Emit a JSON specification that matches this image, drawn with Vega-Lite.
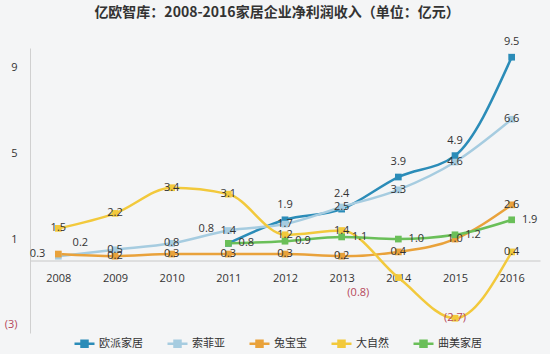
{
  "$schema": "https://vega.github.io/schema/vega-lite/v6.json",
  "autosize": {"type": "none"},
  "padding": {"left": 30, "top": 48, "right": 10, "bottom": 21},
  "width": 510,
  "height": 285,
  "background": "#f4f5f6",
  "title": {"text": "亿欧智库：2008-2016家居企业净利润收入（单位：亿元）", "fontSize": 14, "fontWeight": "bold", "color": "#333333", "anchor": "middle", "offset": 16, "dx": -8, "font": "Noto Sans CJK SC"},
  "config": {"font": "Noto Sans CJK SC", "view": {"stroke": null}},
  "data": {"values": [
    {"year": "2011", "company": "欧派家居", "value": 0.8},
    {"year": "2012", "company": "欧派家居", "value": 1.9},
    {"year": "2013", "company": "欧派家居", "value": 2.4},
    {"year": "2014", "company": "欧派家居", "value": 3.9},
    {"year": "2015", "company": "欧派家居", "value": 4.9},
    {"year": "2016", "company": "欧派家居", "value": 9.5},
    {"year": "2008", "company": "索菲亚", "value": 0.2},
    {"year": "2009", "company": "索菲亚", "value": 0.5},
    {"year": "2010", "company": "索菲亚", "value": 0.8},
    {"year": "2011", "company": "索菲亚", "value": 1.4},
    {"year": "2012", "company": "索菲亚", "value": 1.7},
    {"year": "2013", "company": "索菲亚", "value": 2.5},
    {"year": "2014", "company": "索菲亚", "value": 3.3},
    {"year": "2015", "company": "索菲亚", "value": 4.6},
    {"year": "2016", "company": "索菲亚", "value": 6.6},
    {"year": "2008", "company": "兔宝宝", "value": 0.3},
    {"year": "2009", "company": "兔宝宝", "value": 0.2},
    {"year": "2010", "company": "兔宝宝", "value": 0.3},
    {"year": "2011", "company": "兔宝宝", "value": 0.3},
    {"year": "2012", "company": "兔宝宝", "value": 0.3},
    {"year": "2013", "company": "兔宝宝", "value": 0.2},
    {"year": "2014", "company": "兔宝宝", "value": 0.4},
    {"year": "2015", "company": "兔宝宝", "value": 1.0},
    {"year": "2016", "company": "兔宝宝", "value": 2.6},
    {"year": "2008", "company": "大自然", "value": 1.5},
    {"year": "2009", "company": "大自然", "value": 2.2},
    {"year": "2010", "company": "大自然", "value": 3.4},
    {"year": "2011", "company": "大自然", "value": 3.1},
    {"year": "2012", "company": "大自然", "value": 1.2},
    {"year": "2013", "company": "大自然", "value": 1.4},
    {"year": "2014", "company": "大自然", "value": -0.8},
    {"year": "2015", "company": "大自然", "value": -2.7},
    {"year": "2016", "company": "大自然", "value": 0.4},
    {"year": "2011", "company": "曲美家居", "value": 0.8},
    {"year": "2012", "company": "曲美家居", "value": 0.9},
    {"year": "2013", "company": "曲美家居", "value": 1.1},
    {"year": "2014", "company": "曲美家居", "value": 1.0},
    {"year": "2015", "company": "曲美家居", "value": 1.2},
    {"year": "2016", "company": "曲美家居", "value": 1.9}
  ]},
  "transform": [
    {"calculate": "datum.value < 0 ? '(' + format(-datum.value, '.1f') + ')' : format(datum.value, '.1f')", "as": "label"},
    {"calculate": "datum.company + '-' + datum.year", "as": "key"}
  ],
  "encoding": {
    "x": {"field": "year", "type": "ordinal", "scale": {"type": "point", "padding": 0.5},
      "axis": {"title": null, "offset": -72.5, "labelAngle": 0, "ticks": false, "domainColor": "#c8c8c8", "domainWidth": 1, "labelColor": "#333333", "labelFontSize": 11, "labelPadding": 12, "labelFont": "Open Sans"}},
    "y": {"field": "value", "type": "quantitative", "scale": {"domain": [-3.39, 9.93], "nice": false, "zero": false},
      "axis": {"title": null, "values": [9, 5, 1, -3], "grid": false, "ticks": false, "domainColor": "#d0d0d0", "labelPadding": 13, "labelFontSize": 11, "labelFont": "Open Sans",
        "labelExpr": "datum.value < 0 ? '(' + (-datum.value) + ')' : datum.label",
        "labelColor": {"condition": {"test": "datum.value < 0", "value": "#b5475a"}, "value": "#333333"}}}
  },
  "layer": [
    {
      "mark": {"type": "line", "interpolate": "monotone", "strokeWidth": 2.5},
      "encoding": {
        "color": {"field": "company", "type": "nominal",
          "scale": {"domain": ["欧派家居", "索菲亚", "兔宝宝", "大自然", "曲美家居"], "range": ["#2b8cb8", "#a6cce0", "#e9a23b", "#f2c93c", "#6abf59"]},
          "legend": {"title": null, "orient": "none", "legendX": 43, "legendY": 284, "direction": "horizontal",
            "symbolType": "M-1,0L1,0M-0.3,-0.3L0.3,-0.3L0.3,0.3L-0.3,0.3Z", "symbolSize": 400, "symbolStrokeWidth": 2.5,
            "labelFontSize": 11, "labelColor": "#333333", "labelOffset": 3, "columnPadding": 19,
            "encode": {"symbols": {"update": {"fill": {"scale": "color", "field": "value"}, "stroke": {"scale": "color", "field": "value"}, "opacity": {"value": 1}}}}}},
        "order": {"field": "year"}
      }
    },
    {
      "mark": {"type": "square", "size": 45, "filled": true, "opacity": 1},
      "encoding": {"color": {"field": "company", "type": "nominal", "legend": null}}
    },
    {
      "transform": [{"filter": "indexof(['索菲亚-2008','兔宝宝-2008','大自然-2014'], datum.key) < 0 && (datum.company == '索菲亚' || datum.company == '兔宝宝' || datum.company == '大自然')"}],
      "mark": {"type": "text", "fontSize": 11, "font": "Open Sans"},
      "encoding": {"text": {"field": "label"}, "color": {"condition": {"test": "datum.value < 0", "value": "#b5475a"}, "value": "#333333"}}
    },
    {
      "transform": [{"filter": "datum.company == '欧派家居' && datum.year != '2011'"}],
      "mark": {"type": "text", "fontSize": 11, "font": "Open Sans", "dy": -15, "color": "#333333"},
      "encoding": {"text": {"field": "label"}}
    },
    {
      "transform": [{"filter": "datum.company == '曲美家居'"}],
      "mark": {"type": "text", "fontSize": 11, "font": "Open Sans", "dx": 18, "color": "#333333"},
      "encoding": {"text": {"field": "label"}}
    },
    {
      "transform": [{"filter": "datum.key == '欧派家居-2011'"}],
      "mark": {"type": "text", "fontSize": 11, "font": "Open Sans", "dx": -22, "dy": -14, "color": "#333333"},
      "encoding": {"text": {"field": "label"}}
    },
    {
      "transform": [{"filter": "datum.key == '索菲亚-2008'"}],
      "mark": {"type": "text", "fontSize": 11, "font": "Open Sans", "dx": 22, "dy": -13, "color": "#333333"},
      "encoding": {"text": {"field": "label"}}
    },
    {
      "transform": [{"filter": "datum.key == '兔宝宝-2008'"}],
      "mark": {"type": "text", "fontSize": 11, "font": "Open Sans", "dx": -13, "align": "right", "color": "#333333"},
      "encoding": {"text": {"field": "label"}}
    },
    {
      "transform": [{"filter": "datum.key == '大自然-2014'"}],
      "mark": {"type": "text", "fontSize": 11, "font": "Open Sans", "dx": -40, "dy": 15, "color": "#b5475a"},
      "encoding": {"text": {"field": "label"}}
    }
  ]
}
